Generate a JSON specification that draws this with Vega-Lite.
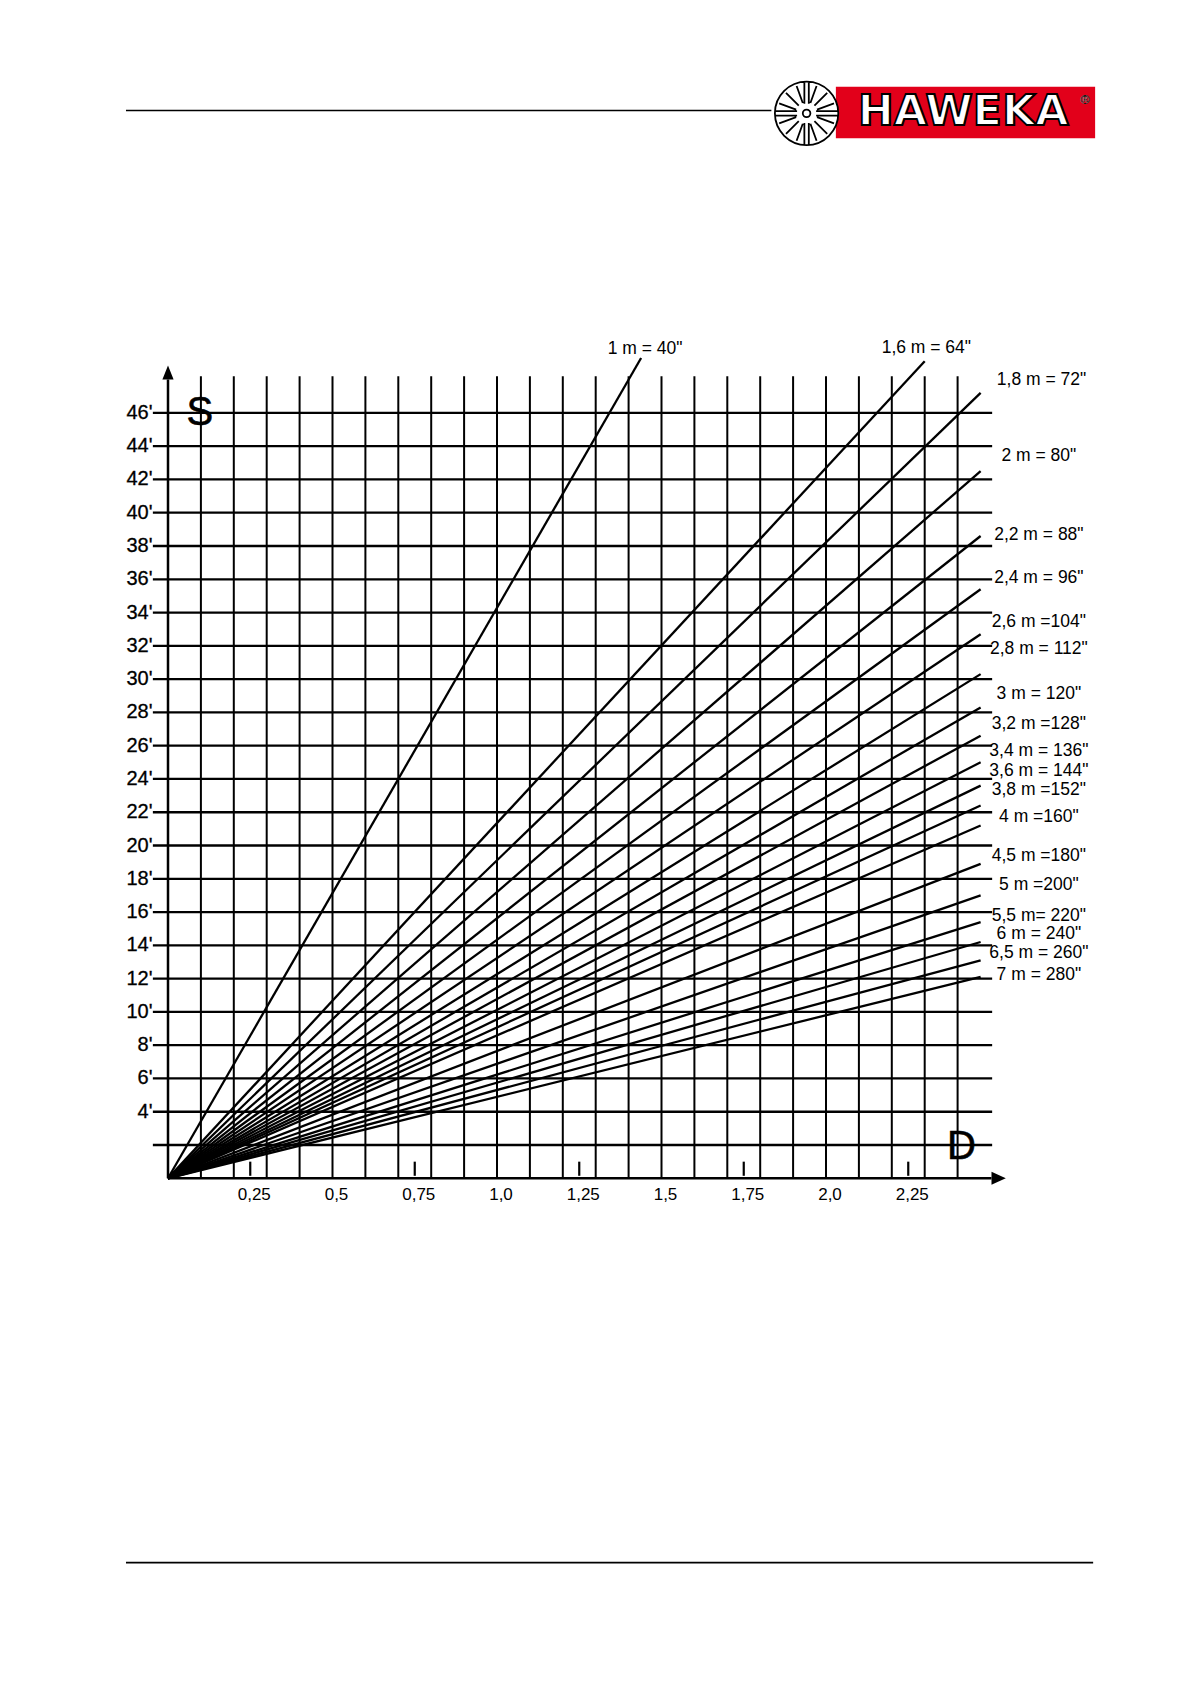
{
  "$schema": "https://vega.github.io/schema/vega-lite/v6.json",
  "autosize": {"type": "none"},
  "padding": {"left": 168, "top": 379.6, "right": 200.5, "bottom": 505.7},
  "width": 822.5,
  "height": 798.7,
  "background": "white",
  "config": {"view": {"stroke": null}, "text": {"font": "Liberation Sans"}},
  "datasets": {
    "hgrid": [{"S":2},{"S":4},{"S":6},{"S":8},{"S":10},{"S":12},{"S":14},{"S":16},{"S":18},{"S":20},{"S":22},{"S":24},{"S":26},{"S":28},{"S":30},{"S":32},{"S":34},{"S":36},{"S":38},{"S":40},{"S":42},{"S":44},{"S":46}],
    "vgrid": [{"D":0.1},{"D":0.2},{"D":0.3},{"D":0.4},{"D":0.5},{"D":0.6},{"D":0.7},{"D":0.8},{"D":0.9},{"D":1.0},{"D":1.1},{"D":1.2},{"D":1.3},{"D":1.4},{"D":1.5},{"D":1.6},{"D":1.7},{"D":1.8},{"D":1.9},{"D":2.0},{"D":2.1},{"D":2.2},{"D":2.3},{"D":2.4}],
    "ticks": [{"D":0.25},{"D":0.75},{"D":1.25},{"D":1.75},{"D":2.25}],
    "ylabels": [{"S":4,"t":"4'"},{"S":6,"t":"6'"},{"S":8,"t":"8'"},{"S":10,"t":"10'"},{"S":12,"t":"12'"},{"S":14,"t":"14'"},{"S":16,"t":"16'"},{"S":18,"t":"18'"},{"S":20,"t":"20'"},{"S":22,"t":"22'"},{"S":24,"t":"24'"},{"S":26,"t":"26'"},{"S":28,"t":"28'"},{"S":30,"t":"30'"},{"S":32,"t":"32'"},{"S":34,"t":"34'"},{"S":36,"t":"36'"},{"S":38,"t":"38'"},{"S":40,"t":"40'"},{"S":42,"t":"42'"},{"S":44,"t":"44'"},{"S":46,"t":"46'"}],
    "xlabels": [{"D":0.25,"t":"0,25"},{"D":0.5,"t":"0,5"},{"D":0.75,"t":"0,75"},{"D":1.0,"t":"1,0"},{"D":1.25,"t":"1,25"},{"D":1.5,"t":"1,5"},{"D":1.75,"t":"1,75"},{"D":2.0,"t":"2,0"},{"D":2.25,"t":"2,25"}],
    "lines": [
      {"w":"1","D":0,"S":0},{"w":"1","D":1.438,"S":49.3},
      {"w":"1.6","D":0,"S":0},{"w":"1.6","D":2.30,"S":49.1},
      {"w":"1.8","D":0,"S":0},{"w":"1.8","D":2.47,"S":47.2},
      {"w":"2","D":0,"S":0},{"w":"2","D":2.47,"S":42.5},
      {"w":"2.2","D":0,"S":0},{"w":"2.2","D":2.47,"S":38.6},
      {"w":"2.4","D":0,"S":0},{"w":"2.4","D":2.47,"S":35.4},
      {"w":"2.6","D":0,"S":0},{"w":"2.6","D":2.47,"S":32.7},
      {"w":"2.8","D":0,"S":0},{"w":"2.8","D":2.47,"S":30.3},
      {"w":"3","D":0,"S":0},{"w":"3","D":2.47,"S":28.3},
      {"w":"3.2","D":0,"S":0},{"w":"3.2","D":2.47,"S":26.6},
      {"w":"3.4","D":0,"S":0},{"w":"3.4","D":2.47,"S":25.0},
      {"w":"3.6","D":0,"S":0},{"w":"3.6","D":2.47,"S":23.6},
      {"w":"3.8","D":0,"S":0},{"w":"3.8","D":2.47,"S":22.4},
      {"w":"4","D":0,"S":0},{"w":"4","D":2.47,"S":21.2},
      {"w":"4.5","D":0,"S":0},{"w":"4.5","D":2.47,"S":18.9},
      {"w":"5","D":0,"S":0},{"w":"5","D":2.47,"S":17.0},
      {"w":"5.5","D":0,"S":0},{"w":"5.5","D":2.47,"S":15.4},
      {"w":"6","D":0,"S":0},{"w":"6","D":2.47,"S":14.2},
      {"w":"6.5","D":0,"S":0},{"w":"6.5","D":2.47,"S":13.1},
      {"w":"7","D":0,"S":0},{"w":"7","D":2.47,"S":12.1}
    ],
    "labels": [
      {"t":"1 m = 40\"","D":1.45,"S":49.85},
      {"t":"1,6 m = 64\"","D":2.305,"S":49.9},
      {"t":"1,8 m = 72\"","D":2.655,"S":48.0},
      {"t":"2 m = 80\"","D":2.647,"S":43.38},
      {"t":"2,2 m = 88\"","D":2.647,"S":38.67},
      {"t":"2,4 m = 96\"","D":2.647,"S":36.09},
      {"t":"2,6 m =104\"","D":2.647,"S":33.44},
      {"t":"2,8 m = 112\"","D":2.647,"S":31.83},
      {"t":"3 m = 120\"","D":2.647,"S":29.12},
      {"t":"3,2 m =128\"","D":2.647,"S":27.31},
      {"t":"3,4 m = 136\"","D":2.647,"S":25.70},
      {"t":"3,6 m = 144\"","D":2.647,"S":24.47},
      {"t":"3,8 m =152\"","D":2.647,"S":23.31},
      {"t":"4 m =160\"","D":2.647,"S":21.70},
      {"t":"4,5 m =180\"","D":2.647,"S":19.37},
      {"t":"5 m =200\"","D":2.647,"S":17.63},
      {"t":"5,5 m= 220\"","D":2.647,"S":15.76},
      {"t":"6 m = 240\"","D":2.647,"S":14.66},
      {"t":"6,5 m = 260\"","D":2.647,"S":13.56},
      {"t":"7 m = 280\"","D":2.647,"S":12.21}
    ],
    "letters": [{"t":"S","D":0.097,"S":45.97},{"t":"D","D":2.412,"S":1.9}],
    "rules": [{"D":-0.1277,"D2":1.834,"S":64.17},{"D":-0.1277,"D2":2.812,"S":-23.1}],
    "logo": [{"D":2.03,"D2":2.818,"S":62.5,"S2":65.6,"wx":1.941,"wy":64.0,"tx":2.417,"ty":64.1,"rx":2.787,"ry":64.8}]
  },
  "layer": [
    {
      "data": {"name": "lines"},
      "mark": {"type": "line", "color": "black", "strokeWidth": 2.3, "clip": false},
      "encoding": {
        "x": {"field": "D", "type": "quantitative", "scale": {"domain": [0, 2.5], "nice": false, "zero": false}, "axis": null},
        "y": {"field": "S", "type": "quantitative", "scale": {"domain": [0, 48], "nice": false, "zero": false}, "axis": null},
        "detail": {"field": "w", "type": "nominal"}
      }
    },
    {
      "data": {"name": "hgrid"},
      "mark": {"type": "rule", "color": "black", "strokeWidth": 2.3, "clip": false},
      "encoding": {
        "y": {"field": "S", "type": "quantitative", "axis": null},
        "x": {"datum": -0.046, "type": "quantitative", "axis": null},
        "x2": {"datum": 2.505}
      }
    },
    {
      "data": {"name": "vgrid"},
      "mark": {"type": "rule", "color": "black", "strokeWidth": 2, "clip": false},
      "encoding": {
        "x": {"field": "D", "type": "quantitative", "axis": null},
        "y": {"datum": 0, "type": "quantitative", "axis": null},
        "y2": {"datum": 48.2}
      }
    },
    {
      "data": {"values": [{"D": 0, "S": 0}]},
      "mark": {"type": "rule", "color": "black", "strokeWidth": 2.5, "clip": false},
      "encoding": {
        "x": {"field": "D", "type": "quantitative", "axis": null},
        "y": {"field": "S", "type": "quantitative", "axis": null},
        "y2": {"datum": 48.0}
      }
    },
    {
      "data": {"values": [{"D": 0, "S": 0}]},
      "mark": {"type": "rule", "color": "black", "strokeWidth": 2.5, "clip": false},
      "encoding": {
        "x": {"field": "D", "type": "quantitative", "axis": null},
        "x2": {"datum": 2.503},
        "y": {"field": "S", "type": "quantitative", "axis": null}
      }
    },
    {
      "data": {"values": [{"D": 0, "S": 48.0}]},
      "mark": {"type": "point", "shape": "M0,-1L0.4,0L-0.4,0Z", "size": 784, "filled": true, "color": "black", "opacity": 1, "strokeWidth": 0, "clip": false},
      "encoding": {
        "x": {"field": "D", "type": "quantitative", "axis": null},
        "y": {"field": "S", "type": "quantitative", "axis": null}
      }
    },
    {
      "data": {"values": [{"D": 2.503, "S": 0}]},
      "mark": {"type": "point", "shape": "M1,0L0,-0.45L0,0.45Z", "size": 818, "filled": true, "color": "black", "opacity": 1, "strokeWidth": 0, "clip": false},
      "encoding": {
        "x": {"field": "D", "type": "quantitative", "axis": null},
        "y": {"field": "S", "type": "quantitative", "axis": null}
      }
    },
    {
      "data": {"name": "ticks"},
      "mark": {"type": "rule", "color": "black", "strokeWidth": 2.2, "clip": false},
      "encoding": {
        "x": {"field": "D", "type": "quantitative", "axis": null},
        "y": {"datum": 0.15, "type": "quantitative", "axis": null},
        "y2": {"datum": 1.0}
      }
    },
    {
      "data": {"name": "ylabels"},
      "mark": {"type": "text", "color": "black", "fontSize": 20, "align": "right", "baseline": "middle", "stroke": "black", "strokeWidth": 0.3, "clip": false},
      "encoding": {
        "x": {"datum": -0.047, "type": "quantitative", "axis": null},
        "y": {"field": "S", "type": "quantitative", "axis": null},
        "text": {"field": "t", "type": "nominal"}
      }
    },
    {
      "data": {"name": "xlabels"},
      "mark": {"type": "text", "color": "black", "fontSize": 17, "align": "center", "baseline": "middle", "dx": 4, "clip": false},
      "encoding": {
        "x": {"field": "D", "type": "quantitative", "axis": null},
        "y": {"datum": -1.03, "type": "quantitative", "axis": null},
        "text": {"field": "t", "type": "nominal"}
      }
    },
    {
      "data": {"name": "labels"},
      "mark": {"type": "text", "color": "black", "fontSize": 17.5, "align": "center", "baseline": "middle", "clip": false},
      "encoding": {
        "x": {"field": "D", "type": "quantitative", "axis": null},
        "y": {"field": "S", "type": "quantitative", "axis": null},
        "text": {"field": "t", "type": "nominal"}
      }
    },
    {
      "data": {"name": "letters"},
      "mark": {"type": "text", "color": "black", "fontSize": 40, "align": "center", "baseline": "middle", "stroke": "black", "strokeWidth": 0.6, "clip": false},
      "encoding": {
        "x": {"field": "D", "type": "quantitative", "axis": null},
        "y": {"field": "S", "type": "quantitative", "axis": null},
        "text": {"field": "t", "type": "nominal"}
      }
    },
    {
      "data": {"name": "rules"},
      "mark": {"type": "rule", "color": "black", "strokeWidth": 1.6, "clip": false},
      "encoding": {
        "x": {"field": "D", "type": "quantitative", "axis": null},
        "x2": {"field": "D2"},
        "y": {"field": "S", "type": "quantitative", "axis": null}
      }
    },
    {
      "data": {"name": "logo"},
      "mark": {"type": "rect", "color": "#e2001a", "clip": false},
      "encoding": {
        "x": {"field": "D", "type": "quantitative", "axis": null},
        "x2": {"field": "D2"},
        "y": {"field": "S", "type": "quantitative", "axis": null},
        "y2": {"field": "S2"}
      }
    },
    {
      "data": {"name": "logo"},
      "mark": {"type": "point", "shape": "M1,0A1,1,0,1,1,-1,0A1,1,0,1,1,1,0Z M0.12,0A0.12,0.12,0,1,1,-0.12,0A0.12,0.12,0,1,1,0.12,0Z M0.329,0.12L0.865,0.315 M0.247,0.247L0.65,0.65 M0.12,0.329L0.315,0.865 M-0.329,0.12L-0.865,0.315 M-0.247,0.247L-0.65,0.65 M-0.12,0.329L-0.315,0.865 M0.329,-0.12L0.865,-0.315 M0.247,-0.247L0.65,-0.65 M0.12,-0.329L0.315,-0.865 M-0.329,-0.12L-0.865,-0.315 M-0.247,-0.247L-0.65,-0.65 M-0.12,-0.329L-0.315,-0.865 M0.07,0.3L0.07,0.997 M-0.07,0.3L-0.07,0.997 M0.07,-0.3L0.07,-0.997 M-0.07,-0.3L-0.07,-0.997 M0.3,0.07L0.997,0.07 M0.3,-0.07L0.997,-0.07 M-0.3,0.07L-0.997,0.07 M-0.3,-0.07L-0.997,-0.07", "size": 4019, "filled": true, "fill": "white", "stroke": "black", "strokeWidth": 1.8, "opacity": 1, "fillOpacity": 1, "strokeOpacity": 1, "clip": false},
      "encoding": {
        "x": {"field": "wx", "type": "quantitative", "axis": null},
        "y": {"field": "wy", "type": "quantitative", "axis": null}
      }
    },
    {
      "data": {"name": "logo"},
      "mark": {"type": "text", "text": "HAWEKA", "font": "DejaVu Sans", "fontWeight": "bold", "fontSize": 43, "fill": "white", "stroke": "black", "strokeWidth": 2, "align": "center", "baseline": "middle", "clip": false},
      "encoding": {
        "x": {"field": "tx", "type": "quantitative", "axis": null},
        "y": {"field": "ty", "type": "quantitative", "axis": null}
      }
    },
    {
      "data": {"name": "logo"},
      "mark": {"type": "text", "text": "®", "font": "DejaVu Sans", "fontSize": 12, "fill": "white", "stroke": "black", "strokeWidth": 0.4, "align": "center", "baseline": "middle", "clip": false},
      "encoding": {
        "x": {"field": "rx", "type": "quantitative", "axis": null},
        "y": {"field": "ry", "type": "quantitative", "axis": null}
      }
    }
  ]
}
